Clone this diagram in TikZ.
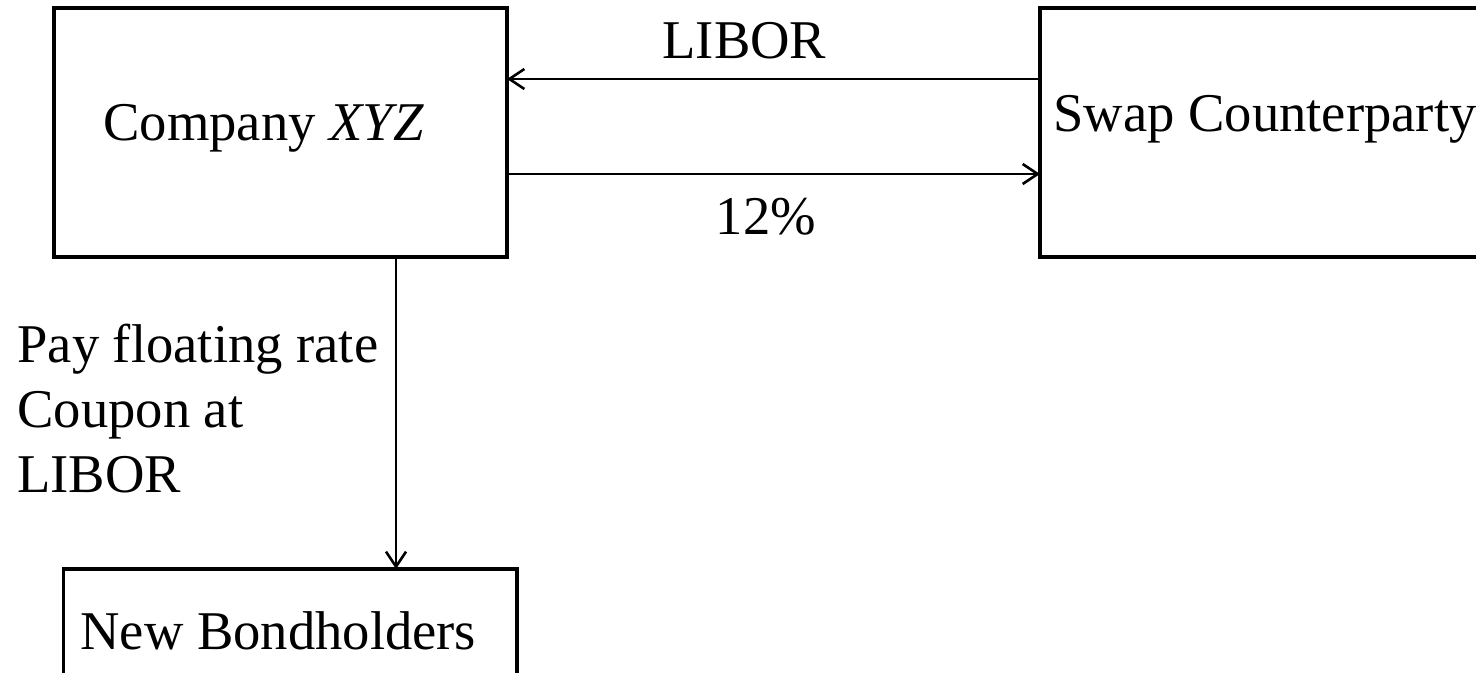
\documentclass[tikz,border=0pt]{standalone}
\usepackage{fontspec}
\setmainfont{Liberation Serif}
\usetikzlibrary{arrows.meta}
\begin{document}
\begin{tikzpicture}[x=0.5pt,y=-0.5pt,
  box/.style={draw, line width=1.6pt, rectangle, inner sep=0pt, outer sep=0pt},
  txt/.style={font=\fontsize{27.3pt}{32.5pt}\selectfont, inner sep=0pt},
  flow/.style={line width=1.3pt, -{Straight Barb[length=7.5pt,width=10pt,line width=1.3pt]}}]
\clip (0,0) rectangle (1476,673);
\node[box, minimum width=226.5pt, minimum height=124.5pt] (company) at (280.5,132.5) {};
\node[box, minimum width=230pt, minimum height=124.5pt] (swap) at (1270,132.5) {};
\node[box, minimum width=226.75pt, minimum height=75.5pt] (bond) at (290.25,644.5) {};
\node[txt, anchor=base west] (ctext) at (103,141) {Company \textit{XYZ}};
\node[txt, anchor=base west] (stext) at (1053,132) {Swap Counterparty};
\node[txt, anchor=base west] (btext) at (80,649) {New Bondholders};
\node[txt, anchor=base] (libor) at (744.5,59) {LIBOR};
\node[txt, anchor=base] (pct) at (766,235) {12\%};
\node[txt, anchor=base west, align=left] (pay) at (17,492) {Pay floating rate\\Coupon at\\LIBOR};
\draw[flow] (swap.west |- 0,79) -- (company.east |- 0,79);
\draw[flow] (company.east |- 0,174) -- (swap.west |- 0,174);
\draw[flow] (company.south -| 396,0) -- (bond.north -| 396,0);
\end{tikzpicture}
\end{document}
